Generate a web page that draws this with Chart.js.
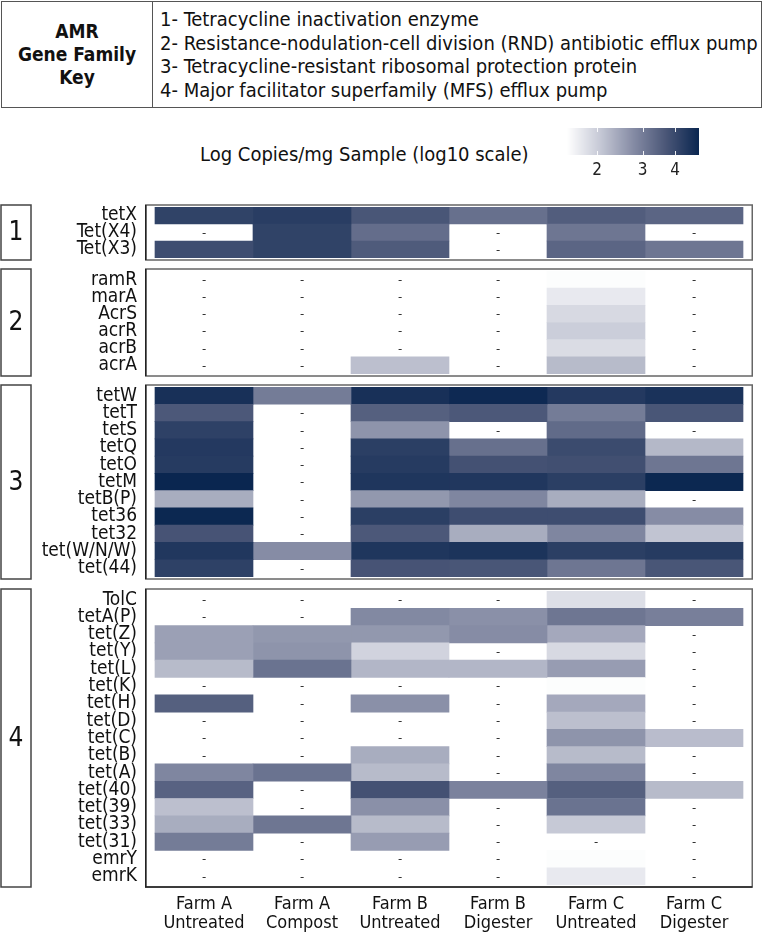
<!DOCTYPE html>
<html>
<head>
<meta charset="utf-8">
<script src="https://cdn.jsdelivr.net/npm/chart.js@4.4.1/dist/chart.umd.min.js"></script>
<style>
  body { margin: 0; background: #fff; width: 766px; height: 935px; position: relative; overflow: hidden;
         font-family: 'Liberation Sans Narrow', 'DejaVu Sans Condensed', sans-serif; color: #111; }
  #key { position: absolute; left: 1px; top: 1px; width: 759px; height: 105px; border: 1.5px solid #555; display: flex; }
  #keyLeft { width: 150px; border-right: 1.5px solid #555; display: flex; align-items: center; justify-content: center;
             text-align: center; font-weight: bold; font-size: 19px; line-height: 23px; }
  #keyRight { padding: 6px 0 0 7px; font-size: 20px; line-height: 23.5px; white-space: nowrap; }
  #legendTitle { position: absolute; left: 200px; top: 142px; font-size: 20px; }
  canvas { position: absolute; left: 0; }
</style>
</head>
<body>
<div id="key">
  <div id="keyLeft">AMR<br>Gene Family<br>Key</div>
  <div id="keyRight">
    1- Tetracycline inactivation enzyme<br>
    2- Resistance-nodulation-cell division (RND) antibiotic efflux pump<br>
    3- Tetracycline-resistant ribosomal protection protein<br>
    4- Major facilitator superfamily (MFS) efflux pump
  </div>
</div>
<div id="legendTitle">Log Copies/mg Sample (log10 scale)</div>
<canvas id="legendBar" width="190" height="65" style="left:540px;top:120px"></canvas>
<canvas id="panel1" width="766" height="59" style="top:203px"></canvas>
<canvas id="panel2" width="766" height="111" style="top:267px"></canvas>
<canvas id="panel3" width="766" height="198" style="top:383px"></canvas>
<canvas id="panel4" width="766" height="348" style="top:587px"></canvas>

<script>
// columns (samples)
const columns = [
    ['Farm A', 'Untreated'], ['Farm A', 'Compost'], ['Farm B', 'Untreated'],
    ['Farm B', 'Digester'], ['Farm C', 'Untreated'], ['Farm C', 'Digester']
];

// colour scale limits + legend ticks
const scaleMin = 1.53;
const scaleMax = 4.95;
const legendTicks = [2, 3, 4];

// 1 - Tetracycline inactivation enzyme
const family1Genes = ['tetX', 'Tet(X4)', 'Tet(X3)'];
const family1Values = [
    [4.15, 4.3, 3.7, 3.2, 3.55, 3.4],
    [null, 4.15, 3.25, null, 3.1, null],
    [3.9, 4.15, 3.6, null, 3.4, 3.1]
];

// 2 - RND efflux pump
const family2Genes = ['ramR', 'marA', 'AcrS', 'acrR', 'acrB', 'acrA'];
const family2Values = [
    [null, null, null, null, 1.55, null],
    [null, null, null, null, 1.72, null],
    [null, null, null, null, 1.88, null],
    [null, null, null, null, 2.0, null],
    [null, null, null, null, 1.85, null],
    [null, null, 2.15, null, 2.2, null]
];

// 3 - ribosomal protection protein
const family3Genes = ['tetW', 'tetT', 'tetS', 'tetQ', 'tetO', 'tetM', 'tetB(P)', 'tet36', 'tet32', 'tet(W/N/W)', 'tet(44)'];
const family3Values = [
    [4.65, 3.0, 4.65, 4.85, 4.4, 4.6],
    [3.65, null, 3.5, 3.65, 3.0, 3.7],
    [4.2, null, 2.65, null, 3.3, null],
    [4.4, null, 4.25, 3.2, 3.95, 2.23],
    [4.35, null, 4.35, 3.8, 3.85, 3.1],
    [4.95, null, 4.5, 4.45, 4.25, 4.9],
    [2.35, null, 2.6, 2.85, 2.35, null],
    [4.9, null, 4.25, 3.9, 3.9, 2.75],
    [3.75, null, 3.65, 2.35, 2.85, 2.1],
    [4.45, 2.75, 4.5, 4.55, 4.25, 4.35],
    [4.2, null, 3.75, 3.7, 3.1, 3.7]
];

// 4 - MFS efflux pump
const family4Genes = ['TolC', 'tetA(P)', 'tet(Z)', 'tet(Y)', 'tet(L)', 'tet(K)', 'tet(H)', 'tet(D)', 'tet(C)',
    'tet(B)', 'tet(A)', 'tet(40)', 'tet(39)', 'tet(33)', 'tet(31)', 'emrY', 'emrK'];
const family4Values = [
    [null, null, null, null, 1.82, null],
    [null, null, 2.8, 2.7, 3.1, 2.95],
    [2.5, 2.6, 2.6, 2.75, 2.4, null],
    [2.5, 2.65, 1.94, null, 1.88, null],
    [2.2, 3.15, 2.25, 2.25, 2.55, null],
    [null, null, null, null, 1.55, null],
    [3.5, null, 2.7, null, 2.4, null],
    [null, null, null, null, 2.15, null],
    [null, null, null, null, 2.65, 2.18],
    [null, null, 2.35, null, 2.2, null],
    [2.85, 3.15, 2.2, null, 2.85, null],
    [3.45, null, 3.8, 2.9, 3.5, 2.2],
    [2.15, null, 2.7, null, 3.15, null],
    [2.35, 3.1, 2.2, null, 2.05, null],
    [3.0, null, 2.55, null, null, null],
    [null, null, null, null, 1.55, null],
    [null, null, null, null, 1.72, null]
];

const FONT = "'Liberation Sans Narrow', 'DejaVu Sans Condensed', sans-serif";
Chart.defaults.font.family = FONT;
Chart.defaults.color = '#111';

// white -> navy, on log10 of the value
const colorStops = [
    [0, [255, 255, 255]],
    [0.25, [198, 201, 214]],
    [0.5, [134, 140, 165]],
    [0.75, [74, 86, 119]],
    [1, [10, 38, 80]]
];

function colorFor(v) {
    const lo = Math.log10(scaleMin), hi = Math.log10(scaleMax);
    let t = (Math.log10(v) - lo) / (hi - lo);
    t = Math.max(0, Math.min(1, t));
    for (let i = 1; i < colorStops.length; i++) {
        const [t1, c1] = colorStops[i];
        const [t0, c0] = colorStops[i - 1];
        if (t <= t1) {
            const f = (t - t0) / (t1 - t0);
            const c = c0.map((x, k) => Math.round(x + (c1[k] - x) * f));
            return `rgb(${c[0]},${c[1]},${c[2]})`;
        }
    }
    return 'rgb(10,38,80)';
}

// keep the scales from adding label overflow padding to the layout
function noOverflow(s) {
    s.paddingTop = 0;
    s.paddingBottom = 0;
    s.paddingLeft = 0;
    s.paddingRight = 0;
}

// box round the panel, family number box, and "-" for missing cells
const panelDecor = {
    id: 'panelDecor',
    afterDraw(chart, args, opts) {
        const ctx = chart.ctx;
        const area = chart.chartArea;
        const xs = chart.scales.x, ys = chart.scales.y;
        ctx.save();

        ctx.fillStyle = '#333';
        ctx.font = '13px ' + FONT;
        ctx.textAlign = 'center';
        ctx.textBaseline = 'middle';
        opts.values.forEach((row, r) => {
            row.forEach((v, c) => {
                if (v == null) ctx.fillText('-', xs.getPixelForValue(c + 0.5), ys.getPixelForValue(r) + 1);
            });
        });

        const top = area.top - 2, bottom = area.bottom + 2;
        const left = area.left + 0.75, right = area.right - 0.75;
        ctx.strokeStyle = '#666';
        ctx.lineWidth = 1.5;
        ctx.strokeRect(left, top, right - left, bottom - top);
        // axis lines (left, and bottom on the last panel) are darker
        ctx.strokeStyle = '#222';
        ctx.beginPath();
        ctx.moveTo(left, top); ctx.lineTo(left, bottom);
        if (opts.axisLine) { ctx.lineTo(right, bottom); }
        ctx.stroke();

        ctx.strokeStyle = '#444';
        ctx.strokeRect(1, top, 30, bottom - top);

        ctx.fillStyle = '#111';
        ctx.font = '26px ' + FONT;
        ctx.fillText(opts.label, 16, (area.top + area.bottom) / 2 + 1);
        ctx.restore();
    }
};

function makePanel(id, label, genes, values, showAxis) {
    const datasets = columns.map((col, c) => ({
        data: values.map(row => row[c] == null ? null : [c, c + 1]),
        backgroundColor: values.map(row => row[c] == null ? 'rgba(0,0,0,0)' : colorFor(row[c])),
        borderWidth: 0,
        barPercentage: 1,
        categoryPercentage: 1,
        grouped: false
    }));

    return new Chart(document.getElementById(id), {
        type: 'bar',
        data: { labels: genes, datasets: datasets },
        options: {
            indexAxis: 'y',
            responsive: false,
            animation: false,
            layout: { padding: { left: 0, right: 13, top: 4, bottom: showAxis ? 0 : 4 } },
            plugins: {
                legend: { display: false },
                tooltip: { enabled: false },
                panelDecor: { label: label, values: values, axisLine: showAxis }
            },
            scales: {
                x: {
                    type: 'linear',
                    min: -0.102,
                    max: 6.102,
                    display: showAxis,
                    grid: { display: false, drawTicks: false },
                    border: { display: false },
                    afterBuildTicks: s => { s.ticks = columns.map((c, i) => ({ value: i + 0.5 })); },
                    afterFit: s => {
                        noOverflow(s);
                        s.height = showAxis ? 50 : 0;
                    },
                    ticks: {
                        autoSkip: false,
                        maxRotation: 0,
                        padding: 9,
                        font: { size: 18, lineHeight: 1.1 },
                        color: '#111',
                        callback: (v, i) => columns[i]
                    }
                },
                y: {
                    type: 'category',
                    offset: true,
                    grid: { display: false, drawTicks: false },
                    border: { display: false },
                    afterFit: s => {
                        noOverflow(s);
                        s.width = 145;
                    },
                    ticks: { autoSkip: false, padding: 8, font: { size: 19 }, color: '#111' }
                }
            }
        },
        plugins: [panelDecor]
    });
}

makePanel('panel1', '1', family1Genes, family1Values, false);
makePanel('panel2', '2', family2Genes, family2Values, false);
makePanel('panel3', '3', family3Genes, family3Values, false);
makePanel('panel4', '4', family4Genes, family4Values, true);

// colour bar legend on a log axis
const gradientBar = {
    id: 'gradientBar',
    beforeDatasetsDraw(chart) {
        const ctx = chart.ctx;
        const area = chart.chartArea;
        const xs = chart.scales.x;
        ctx.save();
        for (let px = Math.floor(area.left); px < area.right; px++) {
            ctx.fillStyle = colorFor(xs.getValueForPixel(px + 0.5));
            ctx.fillRect(px, area.top, 1, area.bottom - area.top);
        }
        ctx.strokeStyle = 'rgba(255,255,255,0.9)';
        ctx.lineWidth = 1;
        legendTicks.forEach(v => {
            const x = Math.round(xs.getPixelForValue(v)) + 0.5;
            ctx.beginPath();
            ctx.moveTo(x, area.top); ctx.lineTo(x, area.top + 4);
            ctx.moveTo(x, area.bottom - 4); ctx.lineTo(x, area.bottom);
            ctx.stroke();
        });
        ctx.restore();
    }
};

new Chart(document.getElementById('legendBar'), {
    type: 'scatter',
    data: { datasets: [] },
    options: {
        responsive: false,
        animation: false,
        layout: { padding: { left: 27, right: 31, top: 8, bottom: 0 } },
        plugins: { legend: { display: false }, tooltip: { enabled: false } },
        scales: {
            x: {
                type: 'logarithmic',
                min: scaleMin,
                max: scaleMax,
                grid: { display: false, drawTicks: false },
                border: { display: false },
                afterBuildTicks: s => { s.ticks = legendTicks.map(v => ({ value: v })); },
                afterFit: s => {
                    noOverflow(s);
                    s.height = 30;
                },
                ticks: { autoSkip: false, maxRotation: 0, padding: 5, font: { size: 17 }, color: '#222',
                         callback: v => String(v) }
            },
            y: { display: false, min: 0, max: 1 }
        }
    },
    plugins: [gradientBar]
});
</script>
</body>
</html>
